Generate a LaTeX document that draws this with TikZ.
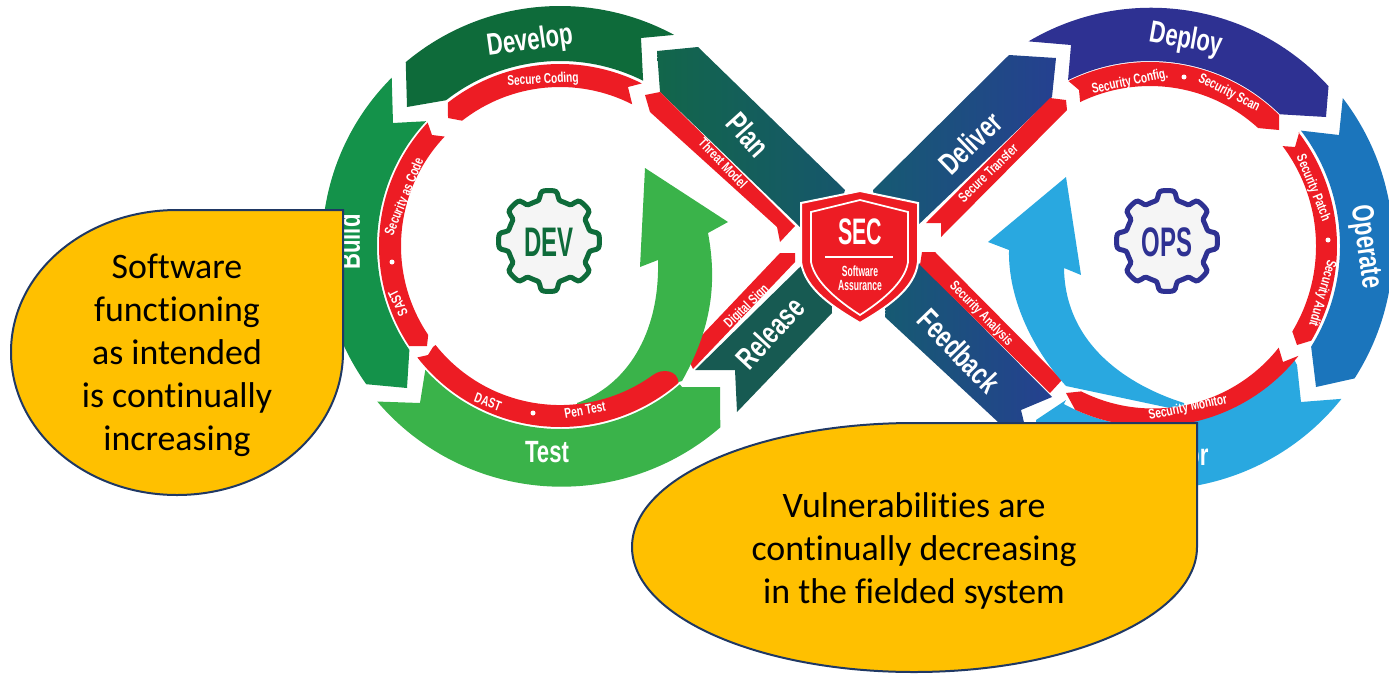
\documentclass[tikz,border=0pt]{standalone}
\usepackage{fontspec}
\setmainfont[Ligatures=NoCommon]{Carlito}
\newfontfamily\bandfont[FakeStretch=0.72]{Liberation Sans}
\newfontfamily\cogfont[FakeStretch=0.58]{Liberation Sans}
\usetikzlibrary{positioning}

\definecolor{secred}{HTML}{ED1C24}
\definecolor{developgreen}{HTML}{0E6B3A}
\definecolor{buildgreen}{HTML}{14924A}
\definecolor{testgreen}{HTML}{3AB34A}
\definecolor{plangreen}{HTML}{12664A}
\definecolor{planteal}{HTML}{16566C}
\definecolor{releaseteal}{HTML}{175A52}
\definecolor{deliverteal}{HTML}{165A72}
\definecolor{deliverblue}{HTML}{254090}
\definecolor{deployblue}{HTML}{2E3192}
\definecolor{operateblue}{HTML}{1B75BC}
\definecolor{monitorblue}{HTML}{29A8E0}
\definecolor{callout}{HTML}{FFC000}
\definecolor{calloutline}{HTML}{1F3864}

\tikzstyle{band} = [text=white, inner sep=0pt, font=\bandfont\bfseries\fontsize{17.5}{20}\selectfont]
\tikzstyle{tag} = [text=white, inner sep=0pt, font=\bandfont\bfseries\fontsize{8}{9}\selectfont]
\tikzstyle{dotmark} = [circle, fill=white, inner sep=0pt, minimum size=0.1cm]
\tikzstyle{cog} = [fill=white!96!black, line width=0.1cm]
\tikzstyle{cogtext} = [inner sep=0pt, font=\cogfont\bfseries\fontsize{23.5}{25}\selectfont]
\tikzstyle{say} = [fill=callout, draw=calloutline, line width=0.04cm]
\tikzstyle{saytext} = [align=center, inner sep=0pt, font=\fontsize{20.4}{24.5}\selectfont]
\tikzset{
    devring/.style={shift={(560,246)}, y=0.02cm},
    opsring/.style={shift={(1150,246)}, y=0.02cm}
}

\begin{document}
\begin{tikzpicture}[x=0.02cm, y=-0.02cm]
    \useasboundingbox (0,0) rectangle (1389,673);
    \clip (0,0) rectangle (1389,673);

    % middle bands
    \path[left color=plangreen, right color=planteal] (657,51) -- (698,47) -- (845,190) -- (830,240) -- (800,227) -- (660,92) -- cycle;
    \fill[releaseteal] (695,370) -- (735,370) -- (737,412) -- (832,313) -- (830,250) -- (800,267) -- cycle;
    \path[left color=deliverteal, right color=deliverblue] (873,190) -- (1009,55) -- (1056,58) -- (1052,97) -- (916,227) -- (880,240) -- cycle;
    \path[left color=deliverteal, right color=deliverblue] (885,317) -- (890,250) -- (918,262) -- (1052,397) -- (1021,410) -- (1027,435) -- (1012,435) -- cycle;
    \fill[secred] (645,95) -- (660,92) -- (795,226) -- (780,242) -- (777,227) -- (650,112) -- cycle;
    \fill[secred] (685,353) -- (780,253) -- (795,253) -- (795,262) -- (693,369) -- cycle;
    \fill[secred] (1050,98) -- (1066,100) -- (1067,110) -- (941,237) -- (941,223) -- (926,223) -- cycle;
    \fill[secred] (922,252) -- (935,252) -- (1062,380) -- (1050,393) -- (920,265) -- cycle;

    % dev loop
    \begin{scope}[devring]
        \fill[developgreen] (130:240) arc[start angle=130, end angle=61.6, radius=240] -- (81,208) -- (63.3:185) arc[start angle=63.3, end angle=128, radius=185] -- (-153,139) -- cycle;
        \fill[buildgreen] (135:238) arc[start angle=135, end angle=215.5, radius=238] -- (-153,-142) -- (214.6:183) arc[start angle=214.6, end angle=137, radius=183] -- (-167,123) -- cycle;
        \fill[testgreen] (220.4:240) arc[start angle=220.4, end angle=311, radius=242] -- (160,-141) -- (122,-141) -- (310.9:183) arc[start angle=310.9, end angle=222.6, radius=183] -- (-140,-157) -- cycle;
        \fill[testgreen] (85,78) -- (168,24) -- (148,13) .. controls (158,-40) and (150,-85) .. (122,-135) -- (17,-165) -- (17,-157) .. controls (65,-140) and (100,-90) .. (98,-14) -- (80,-21) -- cycle;
        \fill[secred] (128:182) arc[start angle=128, end angle=63.3, radius=182] -- (68,159) -- (63:159) arc[start angle=63, end angle=128, radius=159] -- (-112,128) -- cycle;
        \fill[secred] (137:181) -- (-128,111) -- (136.5:159) arc[start angle=136.5, end angle=214, radius=159] -- (-133,-100) -- (213.6:181) arc[start angle=213.6, end angle=137, radius=181] -- cycle;
        \fill[secred] (218:181) arc[start angle=218, end angle=310.9, radius=181] .. controls (118,-124) and (102,-122) .. (93,-129) arc[start angle=305.8, end angle=218.5, radius=159] -- (-127,-101) -- (-132,-109) -- cycle;
    \end{scope}

    % ops loop
    \begin{scope}[opsring]
        \fill[deployblue] (120.7:238) arc[start angle=120.7, end angle=42.3, radius=240] -- (176,129) -- (45.4:185) arc[start angle=45.4, end angle=116.3, radius=185] -- (-79,201) -- cycle;
        \fill[operateblue] (37.5:243) arc[start angle=37.5, end angle=-32.7, radius=244] -- (166,-141) -- (-32:190) arc[start angle=-32, end angle=37.4, radius=190] -- (189,111) -- cycle;
        \fill[monitorblue] (-38.6:245) arc[start angle=-38.6, end angle=-118, radius=241] -- (-114,-174) -- (-84,-154) -- (-118.6:180) arc[start angle=-118.6, end angle=-39, radius=183] -- (147,-119) -- (151,-156) -- cycle;
        \fill[monitorblue] (-84,69) -- (-162,4) -- (-141,-4) .. controls (-142,-50) and (-120,-100) .. (-84,-140) -- (34,-165) -- (34,-157) .. controls (-20,-140) and (-85,-100) .. (-86,-22) -- (-69,-29) -- cycle;
        \fill[secred] (116.3:184) arc[start angle=116.3, end angle=45.4, radius=184] -- (129,116) -- (47.5:160) arc[start angle=47.5, end angle=115.9, radius=160] -- (-71,156) -- cycle;
        \fill[secred] (37.4:188) -- (145,99) -- (37:166) arc[start angle=37, end angle=-31, radius=166] -- (147,-99) -- (-30.4:187) arc[start angle=-30.4, end angle=37.4, radius=187] -- cycle;
        \fill[secred] (-114.6:180) arc[start angle=-114.6, end angle=-38.3, radius=186] -- (133,-116) -- (-38.3:164) arc[start angle=-38.3, end angle=-116.7, radius=160] -- (-84,-147) -- cycle;
    \end{scope}

    % stage names
    \node[band, rotate=8] (develop) at (530,42) {Develop};
    \node[band, rotate=-48] (plan) at (748,135) {Plan};
    \node[band, rotate=90] (build) at (349,242) {Build};
    \node[band] (test) at (547,452) {Test};
    \node[band, rotate=47] (release) at (770,333) {Release};
    \node[band, rotate=44] (deliver) at (970,143) {Deliver};
    \node[band, rotate=-10] (deploy) at (1186,40) {Deploy};
    \node[band, rotate=-82] (operate) at (1365,247) {Operate};
    \node[band] (monitor) at (1168,455) {Monitor};
    \node[band, rotate=-46] (feedback) at (959,351) {Feedback};

    % red tags
    \node[tag, rotate=3] (securecoding) at (543,80) {Secure Coding};
    \node[tag, rotate=68] (securitycode) at (405,197) {Security as Code};
    \node[dotmark] (buildsep) at (392,262) {};
    \node[tag, rotate=116] (sast) at (398,303) {SAST};
    \node[tag, rotate=-46] (threatmodel) at (723,163) {Threat Model};
    \node[tag, rotate=-20] (dast) at (488,402) {DAST};
    \node[dotmark] (testsep) at (533,413) {};
    \node[tag, rotate=10] (pentest) at (585,410) {Pen Test};
    \node[tag, rotate=44] (digitalsign) at (747,307) {Digital Sign};
    \node[tag, rotate=44] (securetransfer) at (988,173) {Secure Transfer};
    \node[tag, rotate=12] (securityconfig) at (1130,82) {Security Config.};
    \node[dotmark] (deploysep) at (1184,77) {};
    \node[tag, rotate=-27] (securityscan) at (1229,93) {Security Scan};
    \node[tag, rotate=-68] (securitypatch) at (1313,188) {Security Patch};
    \node[dotmark] (operatesep) at (1328,240) {};
    \node[tag, rotate=-106] (securityaudit) at (1322,293) {Security Audit};
    \node[tag, rotate=12] (securitymonitor) at (1188,408) {Security Monitor};
    \node[tag, rotate=-46] (securityanalysis) at (981,314) {Security Analysis};

    % gears
    \draw[cog, draw=developgreen, shift={(549,241)}] plot[domain=0:358, samples=180, variable=\t] (\t:{46+4.5*tanh(3*cos(8*\t))}) -- cycle;
    \node[cogtext, text=developgreen] (dev) at (549,242) {DEV};
    \draw[cog, draw=deployblue, shift={(1167,241)}] plot[domain=0:358, samples=180, variable=\t] (\t:{46+4.5*tanh(3*cos(8*\t))}) -- cycle;
    \node[cogtext, text=deployblue] (ops) at (1167,242) {OPS};

    % shield
    \draw[fill=secred, draw=white, line width=0.04cm] (860,191) -- (918,203) -- (918,262) .. controls (915,290) and (885,308) .. (860,323) .. controls (835,308) and (805,290) .. (801,262) -- (801,203) -- cycle;
    \draw[white, line width=0.035cm] (860,200) -- (908,212) -- (908,262) .. controls (905,283) and (880,302) .. (860,315) .. controls (840,302) and (815,283) .. (811,262) -- (811,212) -- cycle;
    \node[inner sep=0pt, text=white, font=\cogfont\bfseries\fontsize{21}{23}\selectfont] (sec) at (860,232) {SEC};
    \coordinate (secruleleft) at (825,257);
    \coordinate (secruleright) at (893,257);
    \draw[white, line width=0.03cm] (secruleleft) -- (secruleright);
    \node[tag, font=\cogfont\bfseries\fontsize{8.4}{8}\selectfont, align=center] (assurance) at (860,278) {Software\\Assurance};

    % callouts
    \draw[say] (343,210) -- (343,352) .. controls (343,431) and (269,495) .. (177,495) .. controls (85,495) and (11,431) .. (11,352) .. controls (11,273) and (85,210) .. (177,210) -- cycle;
    \node[saytext] (functioning) at (177,355) {Software\\functioning\\as intended\\is continually\\increasing};
    \draw[say] (1197,423) -- (1197,547) .. controls (1197,616) and (1070,672) .. (914,672) .. controls (758,672) and (632,616) .. (632,547) .. controls (632,478) and (758,423) .. (914,423) -- cycle;
    \node[saytext] (vulnerabilities) at (914,551) {Vulnerabilities are\\continually decreasing\\in the fielded system};
\end{tikzpicture}
\end{document}
